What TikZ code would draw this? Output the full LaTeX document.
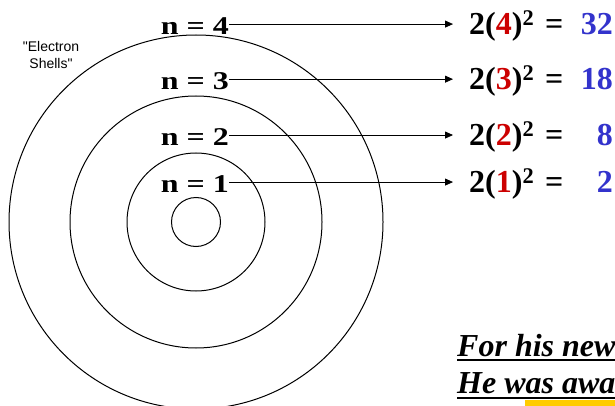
\documentclass[tikz,border=0pt]{standalone}
\usepackage{fontspec}
\setmainfont{Liberation Serif}
\setsansfont{Liberation Sans}[Ligatures=TeXOff]
\usepackage{xcolor}
\usepackage{graphicx}
\usetikzlibrary{arrows.meta,positioning}
\definecolor{shellred}{HTML}{CC0000}
\definecolor{countblue}{HTML}{3333CC}
\definecolor{baryellow}{HTML}{FFCC00}

\begin{document}
\begin{tikzpicture}[
    x=1pt, y=-1pt,
    >={Triangle[length=8pt,width=7pt]},
    every node/.style={inner sep=0pt},
    nlabel/.style={anchor=base east,font=\fontsize{32}{36}\selectfont\bfseries},
    formula/.style={anchor=base west,font=\fontsize{32}{36}\selectfont\bfseries},
    count/.style={anchor=base east,text=countblue,font=\fontsize{32}{36}\selectfont\bfseries},
    note/.style={anchor=base west,font=\fontsize{32}{38}\selectfont\bfseries\itshape},
    shell/.style={line width=1pt},
    pointer/.style={->,line width=0.8pt,shorten >=16pt}
]
\useasboundingbox (0,0) rectangle (615,406);
\clip (0,0) rectangle (615,406);

% Nucleus and shells
\draw[shell] (196,222) circle[radius=24.5];
\draw[shell] (196,222) circle[radius=69];
\draw[shell] (196,222) circle[radius=126];
\draw[shell] (196,222) circle[radius=187];

\node[font=\sffamily\fontsize{14}{17}\selectfont,align=center] (ES) at (51,55)
    {"Electron\\ Shells"};

% Shell labels
\node[nlabel] (N4) at (229,35) {\scalebox{1}[0.8]{n = 4}};
\node[nlabel] (N3) at (229,90) {\scalebox{1}[0.8]{n = 3}};
\node[nlabel] (N2) at (229,146) {\scalebox{1}[0.8]{n = 2}};
\node[nlabel] (N1) at (229,193) {\scalebox{1}[0.8]{n = 1}};

% 2n^2 formulas
\node[formula] (F4) at (469,35) {2({\color{shellred}4})\textsuperscript{2}};
\node[formula] (F3) at (469,90) {2({\color{shellred}3})\textsuperscript{2}};
\node[formula] (F2) at (469,146) {2({\color{shellred}2})\textsuperscript{2}};
\node[formula] (F1) at (469,193) {2({\color{shellred}1})\textsuperscript{2}};

\node[formula] (Q4) at (545,35) {=};
\node[formula] (Q3) at (545,90) {=};
\node[formula] (Q2) at (545,146) {=};
\node[formula] (Q1) at (545,193) {=};

\node[count] (C4) at (613,35) {32};
\node[count] (C3) at (613,90) {18};
\node[count] (C2) at (613,146) {8};
\node[count] (C1) at (613,193) {2};

% Arrows
\draw[pointer] ([yshift=2.5pt]N4.east) -- ([yshift=2.5pt]N4.east -| F4.west);
\draw[pointer] ([yshift=2.5pt]N3.east) -- ([yshift=2.5pt]N3.east -| F3.west);
\draw[pointer] ([yshift=2.5pt]N2.east) -- ([yshift=2.5pt]N2.east -| F2.west);
\draw[pointer] ([yshift=2.5pt]N1.east) -- ([yshift=2.5pt]N1.east -| F1.west);

% Note at the bottom
\fill[baryellow] (525,400) rectangle (615,406);
\node[note] (T1) at (457,356) {For his new};
\node[note] (T2) at (457,393) {He was awa};
\draw[line width=1.5pt] ([yshift=-4pt]T1.base west) -- ++(200,0);
\draw[line width=1.8pt] ([yshift=-5pt]T2.base west) -- ++(200,0);

\end{tikzpicture}
\end{document}
